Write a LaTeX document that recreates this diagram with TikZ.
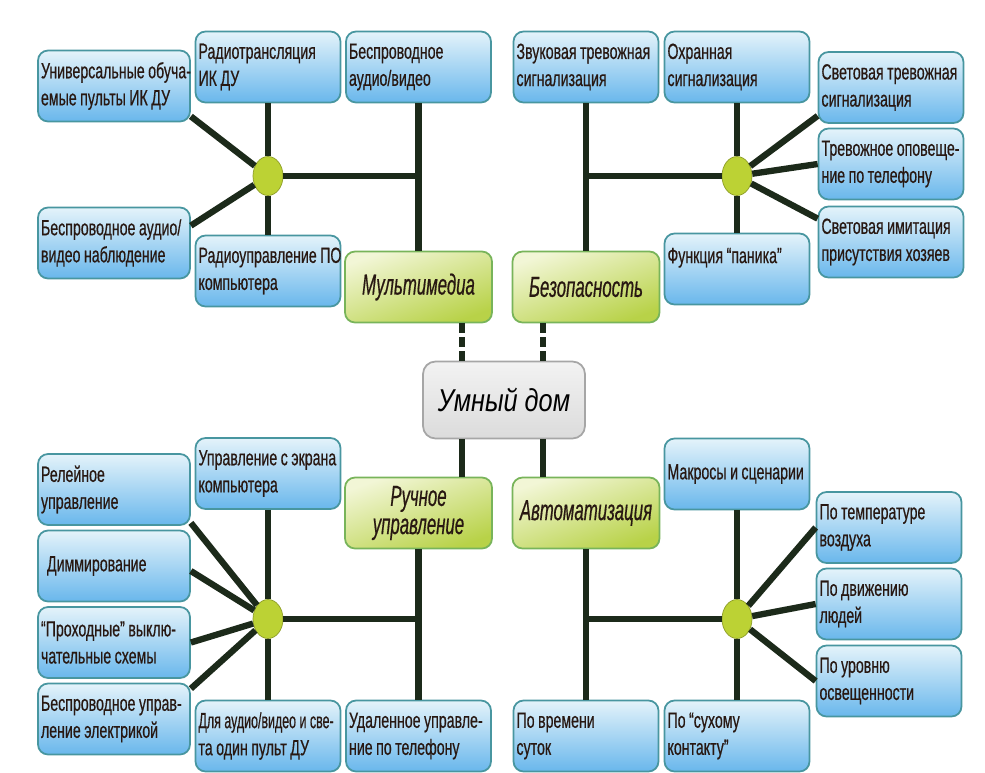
\documentclass[tikz,border=0pt]{standalone}
\usepackage{fontspec}
\setmainfont{Liberation Sans}[FakeStretch=0.645, FakeBold=0.5]
\newfontfamily\headfont{Liberation Sans}[FakeStretch=0.58, FakeBold=0.5]
\newfontfamily\titlefont{Liberation Sans}[FakeStretch=0.8]
\usetikzlibrary{shapes.geometric}
\exhyphenpenalty=10000
\protected\def~{\nobreak\hskip0.16em\relax}

\definecolor{linegreen}{RGB}{28,42,26}
\definecolor{boxtop}{RGB}{228,243,250}
\definecolor{boxbottom}{RGB}{105,183,236}
\definecolor{boxline}{RGB}{72,150,160}
\definecolor{greentop}{RGB}{242,246,214}
\definecolor{greenbottom}{RGB}{184,210,72}
\definecolor{greenline}{RGB}{120,180,90}
\definecolor{hubfill}{RGB}{188,210,52}
\definecolor{textbrown}{RGB}{40,24,18}

\tikzset{
  leaf/.style={draw=boxline, line width=1pt, rounded corners=0.2cm,
    top color=boxtop, bottom color=boxbottom,
    minimum width=2.9cm, minimum height=1.42cm, text width=2.78cm,
    align=left, inner sep=0.06cm, text=textbrown,
    font=\fontsize{12.5}{15.4}\selectfont},
  wideleaf/.style={leaf, minimum width=3.04cm, text width=2.92cm},
  branch/.style={draw=greenline, line width=1pt, rounded corners=0.2cm,
    top color=greentop, bottom color=greenbottom, shading angle=20,
    minimum width=2.94cm, minimum height=1.42cm, align=center,
    text=textbrown, font=\headfont\itshape\fontsize{16.5}{16}\selectfont},
  home/.style={draw=gray!70, line width=1pt, rounded corners=0.25cm,
    top color=gray!10, middle color=white, bottom color=gray!28,
    minimum width=3.24cm, minimum height=1.54cm, text=black,
    font=\titlefont\itshape\fontsize{18}{22}\selectfont},
  hub/.style={ellipse, draw=hubfill!75!black, fill=hubfill,
    minimum width=0.6cm, minimum height=0.78cm, inner sep=0pt},
  wire/.style={draw=linegreen, line width=3.6pt},
  dashwire/.style={wire, dash pattern=on 0.2cm off 0.08cm}
}

\begin{document}
\begin{tikzpicture}[x=0.02cm,y=-0.02cm]
\fill[white] (0,0) rectangle (985,772);
\useasboundingbox (0,0) rectangle (985,772);

% Multimedia
\node[wideleaf] (uni) at (114,86) {Универсальные~обуча-\\емые~пульты~ИК~ДУ};
\node[leaf] (radio) at (268,67) {Радиотрансляция\\ИК~ДУ};
\node[leaf] (bav) at (418.5,67) {Беспроводное\\аудио/видео};
\node[wideleaf] (watch) at (114,243) {Беспроводное~аудио/\\видео~наблюдение};
\node[leaf] (pc) at (268,271) {Радиоуправление~ПО\\компьютера};
\node[branch] (multi) at (418.5,287) {Мультимедиа};
\node[hub] (hubM) at (268,176) {};

\draw[wire] (radio) -- (hubM);
\draw[wire] (hubM) -- (pc);
\draw[wire] (hubM) -- (hubM -| bav);
\draw[wire] (bav) -- (multi);
\draw[wire] (hubM) -- ([yshift=0.12cm]uni.south east);
\draw[wire] (hubM) -- ([yshift=-0.38cm]watch.north east);

% Security
\node[leaf] (sound) at (586,67) {Звуковая~тревожная\\сигнализация};
\node[leaf] (guard) at (737,67) {Охранная\\сигнализация};
\node[leaf] (light) at (891,87.5) {Световая~тревожная\\сигнализация};
\node[leaf] (phone) at (891,164) {Тревожное~оповеще-\\ние~по~телефону};
\node[leaf] (imit) at (891,242) {Световая~имитация\\присутствия~хозяев};
\node[leaf] (panic) at (737,269) {Функция~“паника”\\\mbox{}};
\node[branch] (safe) at (586,287) {Безопасность};
\node[hub] (hubS) at (737,176) {};

\draw[wire] (guard) -- (hubS);
\draw[wire] (hubS) -- (panic);
\draw[wire] (hubS) -- (hubS -| safe);
\draw[wire] (sound) -- (safe);
\draw[wire] (hubS) -- ([yshift=0.16cm]light.south west);
\draw[wire] (hubS) -- (phone.west);
\draw[wire] (hubS) -- ([yshift=-0.26cm]imit.north west);

% Centre
\node[home] (home) at (504,400) {Умный дом};
\coordinate (lt) at (462,0);
\coordinate (rt) at (543,0);
\draw[dashwire] (multi.south -| lt) -- (home.north -| lt);
\draw[dashwire] (safe.south -| rt) -- (home.north -| rt);

% Manual control
\node[leaf] (screen) at (268,473.5) {Управление~с~экрана\\компьютера};
\node[wideleaf] (relay) at (114,489.5) {Релейное\\управление};
\node[wideleaf] (dimm) at (114,566) {\hspace*{0.12cm}Диммирование};
\node[wideleaf] (pass) at (114,642.5) {“Проходные”~выклю-\\чательные~схемы};
\node[wideleaf] (wless) at (114,719) {Беспроводное~управ-\\ление~электрикой};
\node[leaf] (remote) at (268,736) {{\addfontfeature{FakeStretch=0.565}Для~аудио/видео~и~све-}\\та~один~пульт~ДУ};
\node[leaf] (tel) at (418.5,736) {Удаленное~управле-\\ние~по~телефону};
\node[branch] (manual) at (418.5,513) {Ручное\\управление};
\node[hub] (hubH) at (268,619) {};

\draw[wire] (home.south -| lt) -- (manual.north -| lt);
\draw[wire] (screen) -- (hubH);
\draw[wire] (hubH) -- (remote);
\draw[wire] (hubH) -- (hubH -| manual);
\draw[wire] (manual) -- (tel);
\draw[wire] (hubH) -- ([yshift=0.06cm]relay.south east);
\draw[wire] (hubH) -- ([yshift=-0.1cm]dimm.east);
\draw[wire] (hubH) -- (pass.east);
\draw[wire] (hubH) -- ([yshift=-0.12cm]wless.north east);

% Automation
\node[leaf] (macro) at (737,474) {Макросы~и~сценарии};
\node[leaf] (temp) at (889,527.5) {По~температуре\\воздуха};
\node[leaf] (move) at (889,604) {По~движению\\людей};
\node[leaf] (lux) at (889,681) {По~уровню\\освещенности};
\node[leaf] (time) at (586,736) {По~времени\\суток};
\node[leaf] (dry) at (737,736) {По~“сухому\\контакту”};
\node[branch] (auto) at (586,513) {Автоматизация};
\node[hub] (hubA) at (737,619) {};

\draw[wire] (home.south -| rt) -- (auto.north -| rt);
\draw[wire] (macro) -- (hubA);
\draw[wire] (hubA) -- (dry);
\draw[wire] (hubA) -- (hubA -| auto);
\draw[wire] (auto) -- (time);
\draw[wire] (hubA) -- (temp.west);
\draw[wire] (hubA) -- (move.west);
\draw[wire] (hubA) -- (lux.west);

\end{tikzpicture}
\end{document}
